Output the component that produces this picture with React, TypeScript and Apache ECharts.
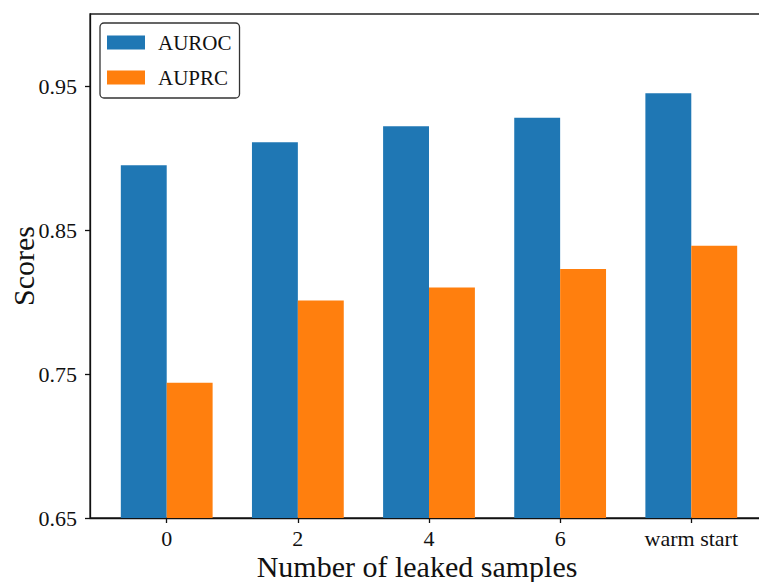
import React, { useEffect, useRef } from "react";
import * as echarts from "echarts";

// Number of leaked samples (category labels along the x axis)
const categories: string[] = ["0", "2", "4", "6", "warm start"];
const auroc: number[] = [0.895, 0.911, 0.922, 0.928, 0.945];
const auprc: number[] = [0.744, 0.801, 0.81, 0.823, 0.839];
const yTicks: number[] = [0.65, 0.75, 0.85, 0.95];

const FONT = "'Liberation Serif', 'Times New Roman', serif";

export default function App() {
  const ref = useRef<HTMLDivElement>(null);

  useEffect(() => {
    if (!ref.current) return;
    const chart = echarts.init(ref.current, undefined, { renderer: "svg" });
    const positions = categories.map((_, i) => i);

    chart.setOption({
      animation: false,
      backgroundColor: "#ffffff",
      textStyle: { fontFamily: FONT },
      grid: {
        left: 90,
        right: -9,
        top: 14,
        bottom: 64,
        containLabel: false,
        outerBoundsMode: "none",
        show: true,
        borderColor: "#222",
        borderWidth: 1.3,
        backgroundColor: "transparent",
      },
      legend: {
        left: 100,
        top: 23,
        orient: "vertical",
        data: ["AUROC", "AUPRC"],
        icon: "rect",
        itemWidth: 38,
        itemHeight: 14,
        itemGap: 14,
        padding: [9, 8, 10, 7],
        borderColor: "#333",
        borderWidth: 1.3,
        borderRadius: 4,
        backgroundColor: "#fff",
        textStyle: {
          fontFamily: FONT,
          fontSize: 21,
          color: "#111",
          padding: [0, 0, 0, 8],
        },
      },
      xAxis: {
        type: "value",
        min: -0.585,
        max: 4.585,
        splitLine: { show: false },
        axisLine: { show: true, onZero: false, lineStyle: { color: "#111", width: 1.3 } },
        axisTick: {
          show: true,
          length: 5,
          customValues: positions,
          lineStyle: { color: "#111", width: 1.3 },
        },
        axisLabel: {
          customValues: positions,
          formatter: (v: number) => categories[Math.round(v)] ?? "",
          fontFamily: FONT,
          fontSize: 22,
          color: "#111",
          margin: 9,
        },
        name: "Number of leaked samples",
        nameLocation: "middle",
        nameMoveOverlap: false,
        nameGap: 33,
        nameTextStyle: {
          fontFamily: FONT,
          fontSize: 30,
          color: "#111",
          padding: [0, 24, 0, 0],
        },
      },
      yAxis: {
        type: "value",
        min: 0.65,
        max: 1.0,
        splitLine: { show: false },
        axisLine: { show: true, onZero: false, lineStyle: { color: "#111", width: 1.3 } },
        axisTick: {
          show: true,
          length: 5,
          customValues: yTicks,
          lineStyle: { color: "#111", width: 1.3 },
        },
        axisLabel: {
          customValues: yTicks,
          formatter: (v: number) => v.toFixed(2),
          fontFamily: FONT,
          fontSize: 22,
          color: "#111",
          margin: 13,
        },
        name: "Scores",
        nameLocation: "middle",
        nameMoveOverlap: false,
        nameGap: 52,
        nameTextStyle: { fontFamily: FONT, fontSize: 30, color: "#111" },
      },
      series: [
        {
          name: "AUROC",
          type: "bar",
          data: auroc.map((v, i) => [i, v]),
          barWidth: 45.9,
          barGap: "0%",
          itemStyle: { color: "#1f77b4" },
        },
        {
          name: "AUPRC",
          type: "bar",
          data: auprc.map((v, i) => [i, v]),
          barWidth: 45.9,
          barGap: "0%",
          itemStyle: { color: "#ff7f0e" },
        },
      ],
    });

    return () => chart.dispose();
  }, []);

  return (
    <div
      ref={ref}
      style={{ position: "fixed", left: 0, top: 0, width: 759, height: 582 }}
    />
  );
}
